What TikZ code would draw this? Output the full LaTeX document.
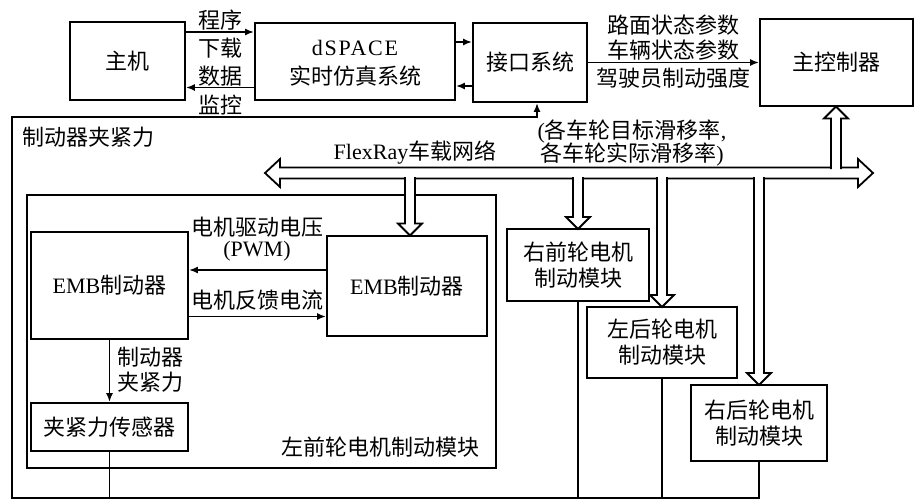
\documentclass[tikz,border=0pt]{standalone}
\usepackage{fontspec}
\setmainfont{Liberation Serif}
\newfontfamily\cjk{Noto Sans CJK SC}
\newfontfamily\lat{Liberation Serif}
\newfontfamily\latw[LetterSpace=8]{Liberation Serif}
\usetikzlibrary{arrows.meta}
\newcommand\zhf{\cjk\fontsize{22}{26}\selectfont}
\newcommand\hdown[3]{%
  \fill[white] (#1-5,#2) rectangle (#1+5,#3-12);
  \draw[hol,fill=white] (#1-5,#2) -- (#1-5,#3-12) -- (#1-12,#3-12) -- (#1,#3) -- (#1+12,#3-12) -- (#1+5,#3-12) -- (#1+5,#2);
}
\newcommand\hup[3]{%
  \fill[white] (#1-5,#2) rectangle (#1+5,#3+12);
  \draw[hol,fill=white] (#1-5,#2) -- (#1-5,#3+12) -- (#1-12,#3+12) -- (#1,#3) -- (#1+12,#3+12) -- (#1+5,#3+12) -- (#1+5,#2);
}
\begin{document}
\begin{tikzpicture}[x=1pt,y=-1pt,
  box/.style={draw, line width=1.8pt, inner sep=0pt, align=center, font=\zhf},
  lbl/.style={inner sep=0pt, align=center, font=\zhf},
  ln/.style={line width=1.8pt},
  arr/.style={line width=1.8pt, -{Latex[length=9pt,width=7pt]}},
  hol/.style={line width=1.8pt, line join=miter}]
\useasboundingbox (0,0) rectangle (917,503);

% top row
\node[box, minimum width=115pt, minimum height=78pt] (host) at (127.5,61) {主机};
\node[box, minimum width=200pt, minimum height=77pt] (dspace) at (355,61.5) {\rule{0pt}{0pt}};
\node[lbl] (dsA) at (355,48) {\latw dSPACE};
\node[lbl] (dsB) at (355,76) {实时仿真系统};
\node[box, minimum width=114pt, minimum height=79pt] (iface) at (530,62.5) {接口系统};
\node[box, minimum width=153pt, minimum height=87pt] (mc) at (836.5,62.5) {主控制器};

\draw[arr] ([yshift=29pt]host.east) -- ([yshift=29pt]host.east -| dspace.west);
\draw[arr] ([yshift=-26pt]dspace.west) -- ([yshift=-26pt]dspace.west -| host.east);
\node[lbl] (l1) at (220,20) {程序};
\node[lbl] (l2) at (220,48) {下载};
\node[lbl] (l3) at (220,76) {数据};
\node[lbl] (l4) at (220,105) {监控};

\draw[arr] ([yshift=19.5pt]dspace.east) -- ([yshift=19.5pt]dspace.east -| iface.west);
\draw[arr] ([yshift=-23.5pt]iface.west) -- ([yshift=-23.5pt]iface.west -| dspace.east);

\draw[arr] (iface.east) -- (iface.east -| mc.west);
\node[lbl] (l5) at (673,25) {路面状态参数};
\node[lbl] (l6) at (673,50) {车辆状态参数};
\node[lbl] (l7) at (673,78) {驾驶员制动强度};

% left front module
\node[box, minimum width=469pt, minimum height=273pt] (lfm) at (261.5,331.5) {};
\node[lbl] (lfmt) at (380,447) {左前轮电机制动模块};
\node[box, minimum width=157pt, minimum height=107pt] (emL) at (109.5,285.5) {{\lat EMB}制动器};
\node[box, minimum width=160pt, minimum height=100pt] (emR) at (407,286) {{\lat EMB}制动器};
\node[box, minimum width=157pt, minimum height=48pt] (sens) at (109.5,427) {夹紧力传感器};

\draw[arr] ([yshift=16pt]emR.west) -- ([yshift=16pt]emR.west -| emL.east);
\draw[arr] ([yshift=-31pt]emL.east) -- ([yshift=-31pt]emL.east -| emR.west);
\node[lbl] (l8) at (257,227) {电机驱动电压};
\node[lbl] (l9) at (257,251) {\lat (PWM)};
\node[lbl] (l10) at (257,300) {电机反馈电流};
\draw[arr] (emL.south) -- (sens.north);
\node[lbl] (l11) at (150,357) {制动器};
\node[lbl] (l12) at (150,382) {夹紧力};

% other modules
\node[box, minimum width=142pt, minimum height=72pt] (RF) at (578,265) {右前轮电机\\制动模块};
\node[box, minimum width=150pt, minimum height=71pt] (LR) at (662,342.5) {左后轮电机\\制动模块};
\node[box, minimum width=136pt, minimum height=76pt] (RR) at (759,423) {右后轮电机\\制动模块};

% clamping force feedback frame
\coordinate (bl) at (12,498);
\coordinate (tl) at (12,117);
\draw[arr] (RR.south) |- (bl) -- (tl) -| ([xshift=7pt]iface.south);
\draw[ln] (RF.south) -- (RF.south |- bl);
\draw[ln] (LR.south) -- (LR.south |- bl);
\draw[ln] (sens.south) -- (sens.south |- bl);
\node[lbl, anchor=west] (l13) at (22,137) {制动器夹紧力};

% bus
\draw[hol, fill=white] (265,173) -- (280,159) -- (280,167.5) -- (858,167.5) -- (858,159) -- (873,173) -- (858,187) -- (858,178.5) -- (280,178.5) -- (280,187) -- cycle;
\node[lbl] (bus) at (415,152) {{\lat FlexRay}车载网络};
\node[lbl] (l14) at (632,132) {{\lat (}各车轮目标滑移率{\lat ,}};
\node[lbl] (l15) at (632,155) {各车轮实际滑移率{\lat )}};

\hdown{410}{177}{235.5}
\hdown{578}{177}{229}
\hdown{662}{177}{307}
\hdown{759}{177}{385}
\hup{836}{169}{106.5}
\end{tikzpicture}
\end{document}
